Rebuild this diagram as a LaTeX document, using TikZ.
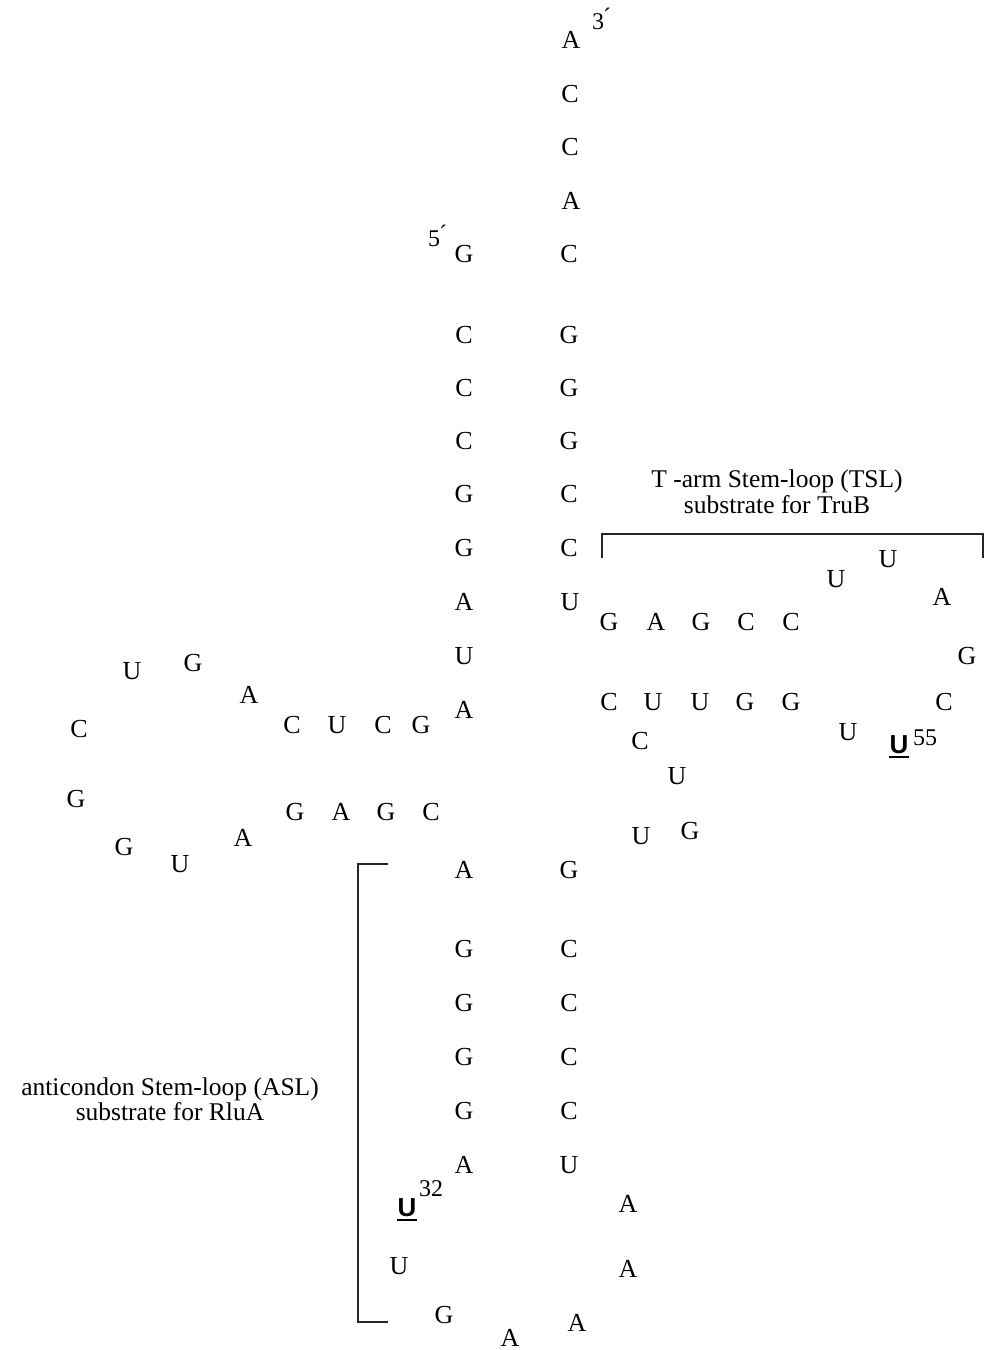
\documentclass[tikz,border=0pt]{standalone}
\usepackage{fontspec}
\setmainfont{Liberation Serif}
\newfontfamily\basesans{Liberation Sans}
\tikzset{
  nt/.style={inner sep=0pt, font=\fontsize{26}{31}\selectfont},
  ntmark/.style={inner sep=0pt, font=\basesans\bfseries\fontsize{26}{31}\selectfont},
  sup/.style={inner sep=0pt, font=\fontsize{24}{28}\selectfont},
  lbl/.style={inner sep=0pt, anchor=base, font=\fontsize{25.5}{30}\selectfont},
  brk/.style={line width=1.2pt, draw=black!85},
  ul/.style={line width=2pt}
}
\begin{document}
\begin{tikzpicture}[x=1pt,y=-1pt]
\useasboundingbox (0,0) rectangle (987,1350);

% acceptor stem, 3' side
\node[nt] (a76) at (571,40) {A};
\node[nt] (a75) at (570,94) {C};
\node[nt] (a74) at (570,147) {C};
\node[nt] (a73) at (571,201) {A};
\node[nt] (a72) at (569,254) {C};
\node[nt] (a71) at (569,335) {G};
\node[nt] (a70) at (569,388) {G};
\node[nt] (a69) at (569,441) {G};
\node[nt] (a68) at (569,494) {C};
\node[nt] (a67) at (569,548) {C};
\node[nt] (a66) at (570,602) {U};
\node[sup] (p3) at (601,19) {3\'{}};

% acceptor stem, 5' side
\node[nt] (a1) at (464,254) {G};
\node[nt] (a2) at (464,335) {C};
\node[nt] (a3) at (464,388) {C};
\node[nt] (a4) at (464,441) {C};
\node[nt] (a5) at (464,494) {G};
\node[nt] (a6) at (464,548) {G};
\node[nt] (a7) at (464,602) {A};
\node[nt] (a8) at (464,656) {U};
\node[nt] (a9) at (464,710) {A};
\node[sup] (p5) at (437,236) {5\'{}};

% D arm
\node[nt] (d10) at (421,725) {G};
\node[nt] (d11) at (383,725) {C};
\node[nt] (d12) at (337,725) {U};
\node[nt] (d13) at (292,725) {C};
\node[nt] (d14) at (249,695) {A};
\node[nt] (d15) at (193,663) {G};
\node[nt] (d16) at (132,671) {U};
\node[nt] (d17) at (79,729) {C};
\node[nt] (d18) at (76,799) {G};
\node[nt] (d19) at (124,847) {G};
\node[nt] (d20) at (180,864) {U};
\node[nt] (d21) at (243,838) {A};
\node[nt] (d22) at (295,812) {G};
\node[nt] (d23) at (341,812) {A};
\node[nt] (d24) at (386,812) {G};
\node[nt] (d25) at (431,812) {C};

% anticodon stem and loop
\node[nt] (c26) at (464,870) {A};
\node[nt] (c27) at (464,949) {G};
\node[nt] (c28) at (464,1003) {G};
\node[nt] (c29) at (464,1057) {G};
\node[nt] (c30) at (464,1111) {G};
\node[nt] (c31) at (464,1165) {A};
\node[ntmark] (c32) at (407,1208) {U};
\draw[ul] ([yshift=-3pt]c32.south west) -- ([yshift=-3pt]c32.south east);
\node[sup] (n32) at (431,1189) {32};
\node[nt] (c33) at (399,1266) {U};
\node[nt] (c34) at (444,1315) {G};
\node[nt] (c35) at (510,1338) {A};
\node[nt] (c36) at (577,1323) {A};
\node[nt] (c37) at (628,1269) {A};
\node[nt] (c38) at (628,1204) {A};
\node[nt] (c39) at (569,1165) {U};
\node[nt] (c40) at (569,1111) {C};
\node[nt] (c41) at (569,1057) {C};
\node[nt] (c42) at (569,1003) {C};
\node[nt] (c43) at (569,949) {C};
\node[nt] (c44) at (569,870) {G};

% variable loop
\node[nt] (v45) at (690,831) {G};
\node[nt] (v46) at (641,836) {U};
\node[nt] (v47) at (677,776) {U};
\node[nt] (v48) at (640,741) {C};

% T arm
\node[nt] (t49) at (609,702) {C};
\node[nt] (t50) at (653,702) {U};
\node[nt] (t51) at (700,702) {U};
\node[nt] (t52) at (745,702) {G};
\node[nt] (t53) at (791,702) {G};
\node[nt] (t54) at (848,732) {U};
\node[ntmark] (t55) at (899,745) {U};
\draw[ul] ([yshift=-3pt]t55.south west) -- ([yshift=-3pt]t55.south east);
\node[sup] (n55) at (925,738) {55};
\node[nt] (t56) at (944,702) {C};
\node[nt] (t57) at (967,656) {G};
\node[nt] (t58) at (942,597) {A};
\node[nt] (t59) at (888,559) {U};
\node[nt] (t60) at (836,579) {U};
\node[nt] (t61) at (791,622) {C};
\node[nt] (t62) at (746,622) {C};
\node[nt] (t63) at (701,622) {G};
\node[nt] (t64) at (656,622) {A};
\node[nt] (t65) at (609,622) {G};

% TSL bracket and label
\coordinate (tb1) at (602,558);
\coordinate (tb2) at (602,534);
\coordinate (tb3) at (983,534);
\coordinate (tb4) at (983,558);
\draw[brk] (tb1) -- (tb2) -- (tb3) -- (tb4);
\node[lbl] (tsl1) at (777,487) {T -arm Stem-loop (TSL)};
\node[lbl] (tsl2) at (777,513) {substrate for TruB};

% ASL bracket and label
\coordinate (ab1) at (388,864);
\coordinate (ab2) at (358,864);
\coordinate (ab3) at (358,1322);
\coordinate (ab4) at (388,1322);
\draw[brk] (ab1) -- (ab2) -- (ab3) -- (ab4);
\node[lbl] (asl1) at (170,1095) {anticondon Stem-loop (ASL)};
\node[lbl] (asl2) at (170,1120) {substrate for RluA};
\end{tikzpicture}
\end{document}
